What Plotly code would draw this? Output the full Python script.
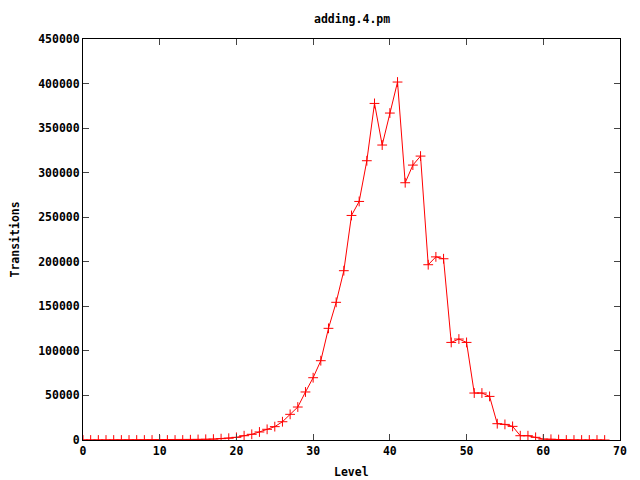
import plotly.graph_objects as go

levels = list(range(0, 69))
transitions = [
    0, 0, 0, 0, 0, 0, 0, 0, 0, 0,
    0, 0, 0, 0, 300, 600, 800, 1000, 1500, 2000,
    3000, 4800, 6400, 9000, 12000, 15000, 20500, 28800, 37000, 53900,
    69900, 89000, 125300, 154500, 190000, 252000, 267700, 313400, 377700, 331000,
    366900, 401700, 288700, 308500, 318600, 196700, 205500, 203400, 109500, 113300,
    109500, 52700, 52700, 48900, 18300, 17500, 15300, 4800, 4800, 3000,
    1000, 800, 500, 0, 0, 0, 0, 0, 0,
]

title_text = "adding.4.pm"
x_title = "Level"
y_title = "Transitions"

FS = 11.5
font = dict(family="DejaVu Sans Mono", size=FS, color="black")

fig = go.Figure()
fig.add_trace(go.Scatter(
    x=levels, y=transitions, mode="lines+markers",
    line=dict(color="#ff0000", width=1),
    marker=dict(symbol="cross-thin", size=7, line=dict(color="#ff0000", width=1), color="#ff0000"),
    showlegend=False,
))

# page body has an 8px default margin, so the figure is 8px smaller
fig.update_layout(
    width=632, height=472,
    margin=dict(l=75, r=20, t=31, b=40),
    paper_bgcolor="white", plot_bgcolor="white",
    font=font,
    xaxis=dict(range=[0, 70], dtick=10, tick0=0, ticks="inside", ticklen=6,
               mirror="ticks", showline=True, linecolor="black", linewidth=1,
               showgrid=False, zeroline=False, automargin=False,
               tickfont=font),
    yaxis=dict(range=[0, 450000], dtick=50000, tick0=0, ticks="inside", ticklen=6,
               mirror="ticks", showline=True, linecolor="black", linewidth=1,
               showgrid=False, zeroline=False, tickformat="d", automargin=False,
               tickfont=font),
)
fig.add_annotation(text="<b>" + title_text + "</b>", xref="paper", yref="paper",
                   x=0.5, y=1 + (39 - 19) / 401, showarrow=False, font=font,
                   xanchor="center", yanchor="middle")
fig.add_annotation(text="<b>" + x_title + "</b>", xref="paper", yref="paper",
                   x=0.5, y=-(472 - 440) / 401, showarrow=False, font=font,
                   xanchor="center", yanchor="middle")
fig.add_annotation(text="<b>" + y_title + "</b>", xref="paper", yref="paper",
                   x=-(83 - 14) / 537, y=0.5, showarrow=False, font=font, textangle=-90,
                   xanchor="center", yanchor="middle")
fig.update_xaxes(tickprefix="<b>", ticksuffix="</b>")
fig.update_yaxes(tickprefix="<b>", ticksuffix="</b>")

fig.write_html("out.html")
